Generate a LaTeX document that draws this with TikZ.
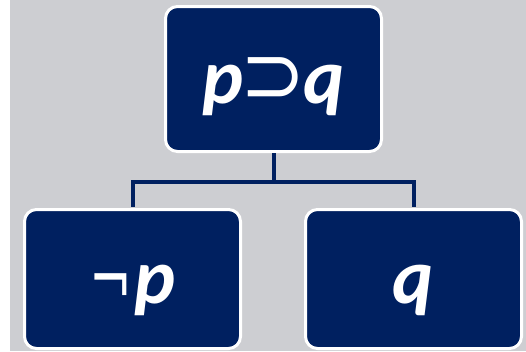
\documentclass[tikz,border=0pt]{standalone}
\usepackage{fontspec}
\usepackage{graphicx}
\setmainfont{Carlito}
\newfontfamily\symfont{DejaVu Sans}
\definecolor{navy}{RGB}{0,32,96}
\definecolor{panel}{RGB}{205,206,210}
% upright operator glyphs set in DejaVu Sans
\newcommand\opglyph[1]{{\symfont\fontsize{60}{60}\selectfont\upshape\mdseries #1}}
\begin{document}
\begin{tikzpicture}[x=1pt,y=-1pt,
  termbox/.style={fill=navy, draw=white, line width=3pt, rounded corners=12pt,
    minimum width=216pt, inner sep=0pt, text=white,
    font=\fontsize{78}{80}\selectfont\bfseries\itshape,
    text height=48pt, text depth=0pt},
  link/.style={draw=navy, line width=4pt}]
\useasboundingbox (0,0) rectangle (526,351);
% page and grey panel
\fill[white] (0,0) rectangle (526,351);
\fill[panel] (10,0) rectangle (526,351);
% formula tree
\node[termbox, minimum height=145pt] (top) at (273.5,79)
  {p\kern-3pt\raisebox{0pt}{\scalebox{1.3}[1.4]{\opglyph{⊃}}}\kern-2pt q};
\node[termbox, minimum height=139pt] (left) at (132.5,279)
  {\raisebox{-3pt}{\scalebox{0.85}[1.3]{\opglyph{¬}}}\kern3pt p};
\node[termbox, minimum height=139pt] (right) at (413.5,279) {q};
% branches
\draw[link] (top.south) -- ++(0,28.5) coordinate (fork);
\draw[link, shorten >=1.5pt] (fork) -| (left.north);
\draw[link, shorten >=1.5pt] (fork) -| (right.north);
\end{tikzpicture}
\end{document}
